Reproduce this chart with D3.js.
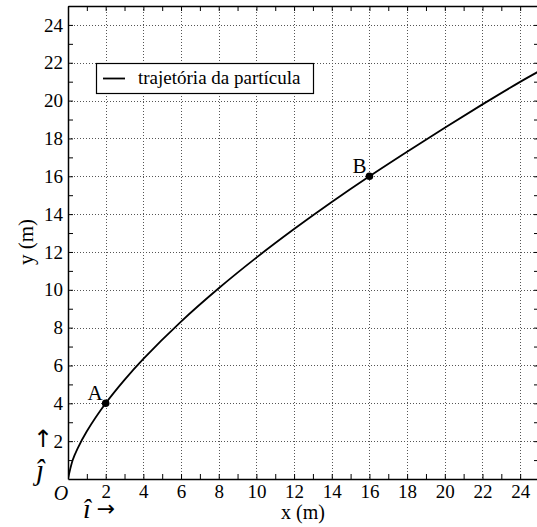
<!DOCTYPE html>
<html>
<head>
<meta charset="utf-8">
<script src="https://cdn.jsdelivr.net/npm/d3@7"></script>
<style>
  body { margin: 0; background: #fff; }
  svg text { font-family: "Liberation Serif", "Times New Roman", "DejaVu Serif", serif; }
</style>
</head>
<body>
<svg id="chart" width="537" height="527"></svg>
<script>
// trajetoria (x em m, y em m)
const trajX = [0, 0.25, 0.5, 1, 2, 3, 4, 6, 8, 10, 12, 14, 16, 18, 20, 22, 24, 25];
const trajY = [0, 1.0, 1.59, 2.52, 4, 5.24, 6.35, 8.32, 10.08, 11.7, 13.21, 14.64, 16, 17.3, 18.57, 19.8, 20.99, 21.55];
// pontos marcados
const pointNames = ["A", "B"];
const pointX = [2, 16];
const pointY = [4, 16];
const tickValues = [2, 4, 6, 8, 10, 12, 14, 16, 18, 20, 22, 24];
const legendLabel = "trajetória da partícula";

const FONT = "Liberation Serif";
const svg = d3.select("#chart");
const area = { left: 68, top: 6, right: 539, bottom: 479 };

const scX = d3.scaleLinear().domain([0, 25]).range([area.left, area.right]);
const scY = d3.scaleLinear().domain([0, 25]).range([area.bottom, area.top]);
const minor = d3.range(1, 26);

// grade pontilhada
const grid = svg.append("g").attr("stroke", "#555").attr("stroke-width", 1)
  .attr("stroke-dasharray", "1,2");
grid.selectAll(".gx").data(tickValues).enter().append("line")
  .attr("x1", d => Math.round(scX(d)) + 0.5).attr("x2", d => Math.round(scX(d)) + 0.5)
  .attr("y1", area.top).attr("y2", area.bottom);
grid.selectAll(".gy").data(tickValues).enter().append("line")
  .attr("y1", d => Math.round(scY(d)) + 0.5).attr("y2", d => Math.round(scY(d)) + 0.5)
  .attr("x1", area.left).attr("x2", area.right);

// eixos com ticks para dentro
function axis(gen, tr) {
  const g = svg.append("g").attr("transform", tr).call(gen);
  g.select(".domain").attr("stroke-width", 1.5);
  g.selectAll("text").attr("fill", "#000").style("font-family", FONT).style("font-size", "19px");
  return g;
}
axis(d3.axisBottom(scX).tickValues(minor).tickSize(-5).tickFormat(d => d % 2 === 0 ? d : "").tickPadding(6).tickSizeOuter(0),
  `translate(0,${area.bottom})`);
axis(d3.axisLeft(scY).tickValues(minor).tickSize(-5).tickFormat(d => d % 2 === 0 ? d : "").tickPadding(5).tickSizeOuter(0),
  `translate(${area.left},0)`);
axis(d3.axisTop(scX).tickValues(minor).tickSize(-5).tickFormat("").tickSizeOuter(0),
  `translate(0,${area.top})`);
axis(d3.axisRight(scY).tickValues(minor).tickSize(-5).tickFormat("").tickSizeOuter(0),
  `translate(${area.right},0)`);

// curva
svg.append("defs").append("clipPath").attr("id", "clip").append("rect")
  .attr("x", area.left).attr("y", area.top)
  .attr("width", area.right - area.left).attr("height", area.bottom - area.top);
const line = d3.line().x((d, i) => scX(trajX[i])).y((d, i) => scY(trajY[i])).curve(d3.curveCatmullRom.alpha(0.5));
svg.append("path").datum(trajX).attr("d", line).attr("clip-path", "url(#clip)")
  .attr("fill", "none").attr("stroke", "#000").attr("stroke-width", 1.8);

// pontos A e B
svg.selectAll(".pt").data(pointNames).enter().append("circle")
  .attr("cx", (d, i) => scX(pointX[i])).attr("cy", (d, i) => scY(pointY[i]))
  .attr("r", 3.8).attr("fill", "#000");
svg.selectAll(".ptl").data(pointNames).enter().append("text")
  .attr("x", (d, i) => scX(pointX[i]) - 3).attr("y", (d, i) => scY(pointY[i]) - 3)
  .attr("text-anchor", "end").style("font-size", "21px").text(d => d);

// legenda
const leg = svg.append("g");
leg.append("rect").attr("x", 96.5).attr("y", 63.5).attr("width", 217).attr("height", 30)
  .attr("fill", "#fff").attr("stroke", "#000").attr("stroke-width", 1.2);
leg.append("line").attr("x1", 103).attr("x2", 125).attr("y1", 78.5).attr("y2", 78.5)
  .attr("stroke", "#000").attr("stroke-width", 1.8);
leg.append("text").attr("x", 138).attr("y", 84).style("font-size", "19px").text(legendLabel);

// rotulos dos eixos
svg.append("text").attr("x", 303).attr("y", 519).attr("text-anchor", "middle")
  .style("font-size", "20px").text("x (m)");
svg.append("text").attr("transform", "translate(33,242) rotate(-90)").attr("text-anchor", "middle")
  .style("font-size", "21px").text("y (m)");

// origem e versores
svg.append("text").attr("x", 61).attr("y", 500).attr("text-anchor", "middle")
  .style("font-size", "20px").style("font-style", "italic").text("O");
svg.append("text").attr("x", 40).attr("y", 480).attr("text-anchor", "middle")
  .style("font-size", "29px").style("font-style", "italic").text("ĵ");
svg.append("text").attr("x", 43).attr("y", 447).attr("text-anchor", "middle")
  .style("font-family", "DejaVu Sans").style("font-size", "24px").text("↑");
svg.append("text").attr("x", 87).attr("y", 518).attr("text-anchor", "middle")
  .style("font-size", "28px").style("font-style", "italic").text("î");
svg.append("text").attr("x", 106).attr("y", 516).attr("text-anchor", "middle")
  .style("font-family", "DejaVu Sans").style("font-size", "22px").text("→");
</script>
</body>
</html>
